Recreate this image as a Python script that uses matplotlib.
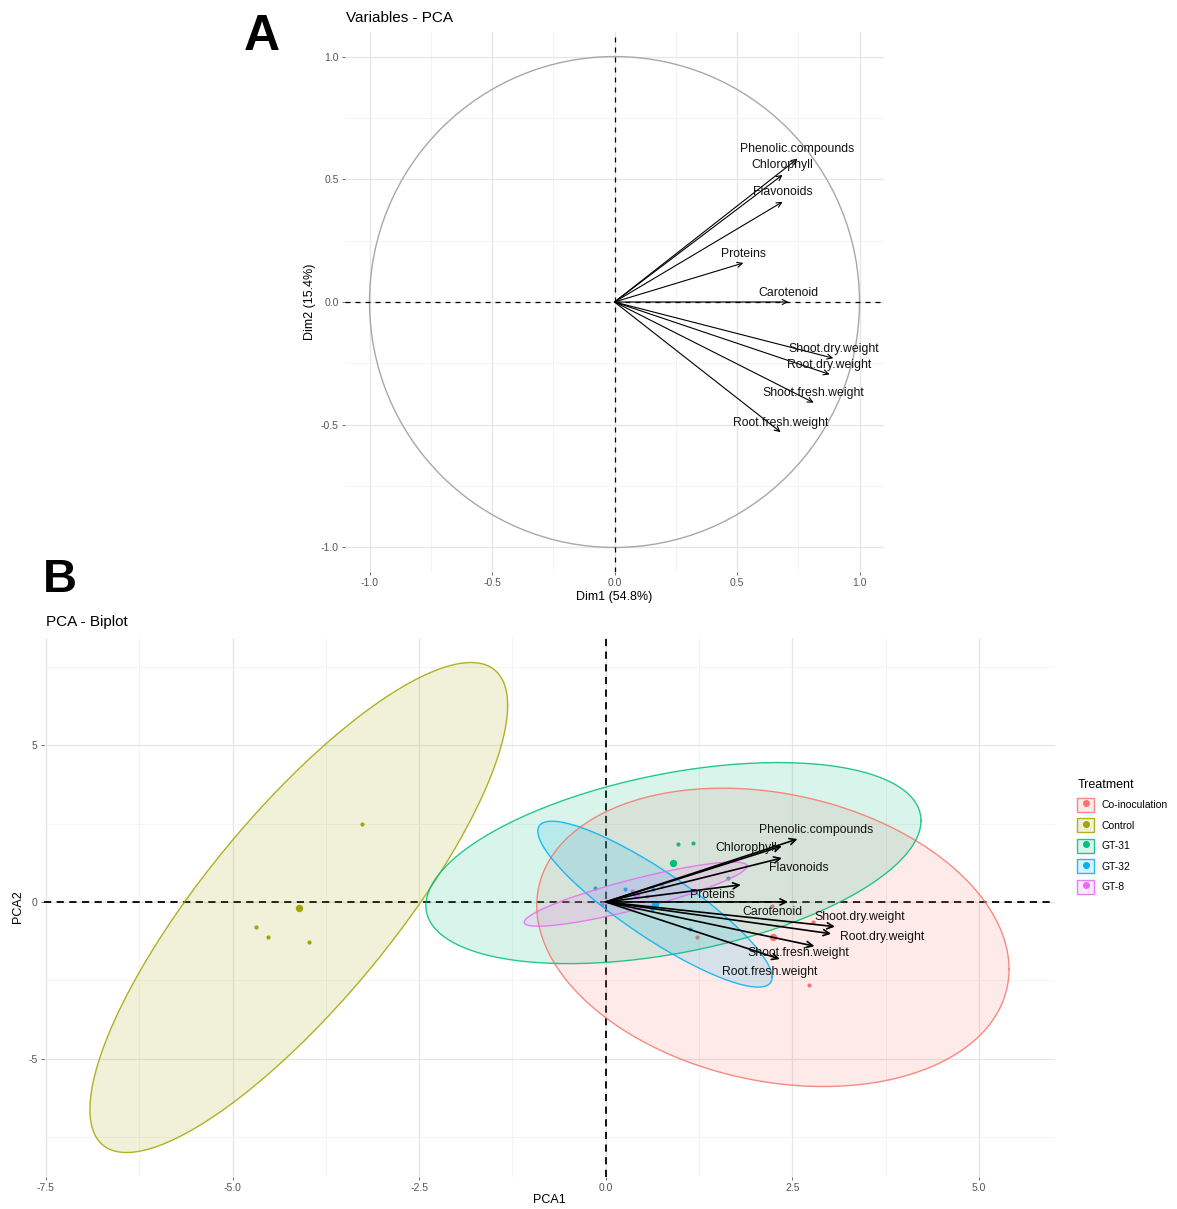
import numpy as np
import matplotlib
matplotlib.use("Agg")
import matplotlib.pyplot as plt
from matplotlib.patches import Circle, Patch
from matplotlib.lines import Line2D
from matplotlib.ticker import MultipleLocator

plt.rcParams['font.family'] = ['Liberation Sans', 'DejaVu Sans']
plt.rcParams['axes.unicode_minus'] = False

# variable coordinates on Dim1 / Dim2
var_names = ['Phenolic.compounds', 'Chlorophyll', 'Flavonoids', 'Proteins', 'Carotenoid',
             'Shoot.dry.weight', 'Root.dry.weight', 'Shoot.fresh.weight', 'Root.fresh.weight']
var_dim1 = [0.747, 0.686, 0.686, 0.526, 0.710, 0.893, 0.878, 0.813, 0.678]
var_dim2 = [0.584, 0.518, 0.408, 0.159, 0.000, -0.229, -0.295, -0.410, -0.530]
biplot_scale = 3.44

# individuals (PCA1, PCA2) per treatment
treatments = ['Co-inoculation', 'Control', 'GT-31', 'GT-32', 'GT-8']
coinoc_pc1 = [2.78, 2.73, 1.22, 2.23]
coinoc_pc2 = [-0.63, -2.65, -1.11, -0.13]
control_pc1 = [-3.27, -4.69, -4.52, -3.97]
control_pc2 = [2.49, -0.80, -1.12, -1.28]
gt31_pc1 = [0.97, 1.17, 1.64, -0.15]
gt31_pc2 = [1.84, 1.89, 0.78, 0.45]
gt32_pc1 = [0.255, 1.13, 0.63, 0.625]
gt32_pc2 = [0.41, -0.86, 0.40, -0.23]
gt8_pc1 = [-0.05, 0.35, 0.55, 0.75]
gt8_pc2 = [-0.05, 0.35, 0.20, 0.50]

colors = ['#F8766D', '#A3A500', '#00BF7D', '#00B0F6', '#E76BF3']

# label placement for the biplot (data units)
bi_label_xy = [(2.815, 2.30), (1.886, 1.716), (2.587, 1.076), (1.425, 0.234), (2.239, -0.309),
               (3.405, -0.469), (3.70, -1.108), (2.578, -1.64), (2.198, -2.226)]

W, H = 1177, 1209
fig = plt.figure(figsize=(W / 100, H / 100), dpi=100)


def px_axes(x0, y0, x1, y1):
    return fig.add_axes([x0 / W, 1 - y1 / H, (x1 - x0) / W, (y1 - y0) / H])


def style_axes(ax, major, minor):
    for s in ax.spines.values():
        s.set_visible(False)
    ax.xaxis.set_major_locator(MultipleLocator(major))
    ax.yaxis.set_major_locator(MultipleLocator(major))
    ax.xaxis.set_minor_locator(MultipleLocator(minor))
    ax.yaxis.set_minor_locator(MultipleLocator(minor))
    ax.grid(which='major', color='#E6E6E6', lw=0.9)
    ax.grid(which='minor', color='#F2F2F2', lw=0.6)
    ax.tick_params(which='major', length=2.5, width=0.6, color='#555555',
                   labelsize=7.5, labelcolor='#555555', pad=2)
    ax.tick_params(which='minor', length=0)
    ax.set_axisbelow(True)


def norm_ellipse(x, y, level=0.95, nseg=200):
    # same construction as ggplot2::stat_ellipse(type = "norm")
    x = np.asarray(x)
    y = np.asarray(y)
    dfd = len(x) - 1
    fq = dfd / 2 * ((1 - level) ** (-2 / dfd) - 1)  # F(2, dfd) quantile
    radius = np.sqrt(2 * fq)
    center = np.array([x.mean(), y.mean()])
    R = np.linalg.cholesky(np.cov(np.vstack([x, y]))).T
    t = np.linspace(0, 2 * np.pi, nseg)
    circ = np.column_stack([np.cos(t), np.sin(t)])
    return center + radius * circ @ R


# ---------------- Panel A ----------------
axA = px_axes(345, 32, 884, 572)
style_axes(axA, 0.5, 0.25)
axA.set_xlim(-1.1, 1.1)
axA.set_ylim(-1.1, 1.1)
axA.set_xticks([-1.0, -0.5, 0.0, 0.5, 1.0])
axA.set_yticks([-1.0, -0.5, 0.0, 0.5, 1.0])
axA.set_xticklabels(['-1.0', '-0.5', '0.0', '0.5', '1.0'])
axA.set_yticklabels(['-1.0', '-0.5', '0.0', '0.5', '1.0'])
axA.add_patch(Circle((0, 0), 1.0, fill=False, ec='#A8A8A8', lw=1.0, zorder=2))
axA.axhline(0, color='black', ls=(0, (4, 4)), lw=0.9, zorder=2)
axA.axvline(0, color='black', ls=(0, (4, 4)), lw=0.9, zorder=2)
for name, vx, vy in zip(var_names, var_dim1, var_dim2):
    axA.annotate('', xy=(vx, vy), xytext=(0, 0),
                 arrowprops=dict(arrowstyle='->', color='black', lw=0.8,
                                 shrinkA=0, shrinkB=0, mutation_scale=9), zorder=3)
    axA.annotate(name, xy=(vx, vy), xytext=(0, 2.5), textcoords='offset points',
                 ha='center', va='bottom', fontsize=8.8, color='#111111', zorder=4)

fig.text(346 / W, 1 - 18 / H, 'Variables - PCA', ha='left', va='center', fontsize=11)
fig.text(614 / W, 1 - 597 / H, 'Dim1 (54.8%)', ha='center', va='center', fontsize=9)
fig.text(310 / W, 1 - 302 / H, 'Dim2 (15.4%)', ha='center', va='center', fontsize=9,
         rotation=90)
fig.text(262 / W, 1 - 37 / H, 'A', ha='center', va='center', fontsize=36, fontweight='bold')

# ---------------- Panel B ----------------
axB = px_axes(44, 638, 1055, 1177)
style_axes(axB, 2.5, 1.25)
axB.yaxis.set_major_locator(MultipleLocator(5))
axB.yaxis.set_minor_locator(MultipleLocator(2.5))

groups_x = [coinoc_pc1, control_pc1, gt31_pc1, gt32_pc1, gt8_pc1]
groups_y = [coinoc_pc2, control_pc2, gt31_pc2, gt32_pc2, gt8_pc2]

axB.axhline(0, color='black', ls=(0, (4, 3)), lw=1.3, zorder=1.5)
axB.axvline(0, color='black', ls=(0, (4, 3)), lw=1.3, zorder=1.5)

allx, ally = [], []
for gx, gy, c in zip(groups_x, groups_y, colors):
    axB.scatter(gx, gy, s=9, color=c, lw=0, zorder=2)
for gx, gy, c in zip(groups_x, groups_y, colors):
    e = norm_ellipse(gx, gy)
    axB.fill(e[:, 0], e[:, 1], color=c, alpha=0.15, lw=0, zorder=3)
    axB.plot(e[:, 0], e[:, 1], color=c, lw=1.0, alpha=0.85, zorder=3.1)
    allx.extend(e[:, 0])
    ally.extend(e[:, 1])
for gx, gy, c in zip(groups_x, groups_y, colors):
    axB.scatter([np.mean(gx)], [np.mean(gy)], s=28, color=c, lw=0, zorder=4)

xr = max(allx) - min(allx)
yr = max(ally) - min(ally)
axB.set_xlim(min(allx) - 0.05 * xr, max(allx) + 0.05 * xr)
axB.set_ylim(min(ally) - 0.05 * yr, max(ally) + 0.05 * yr)

for name, vx, vy, (lx, ly) in zip(var_names, var_dim1, var_dim2, bi_label_xy):
    axB.annotate('', xy=(vx * biplot_scale, vy * biplot_scale), xytext=(0, 0),
                 arrowprops=dict(arrowstyle='->', color='black', lw=1.2,
                                 shrinkA=0, shrinkB=0, mutation_scale=11), zorder=5)
    axB.text(lx, ly, name, ha='center', va='center', fontsize=8.8, color='#111111', zorder=6)

fig.text(46 / W, 1 - 622 / H, 'PCA - Biplot', ha='left', va='center', fontsize=11)
fig.text(549 / W, 1 - 1200 / H, 'PCA1', ha='center', va='center', fontsize=9)
fig.text(18 / W, 1 - 907 / H, 'PCA2', ha='center', va='center', fontsize=9, rotation=90)
fig.text(60 / W, 1 - 580 / H, 'B', ha='center', va='center', fontsize=34, fontweight='bold')

handles = []
for c in colors:
    handles.append((Patch(facecolor=matplotlib.colors.to_rgba(c, 0.15),
                          edgecolor=matplotlib.colors.to_rgba(c, 0.85), lw=1.0),
                    Line2D([], [], marker='o', color=c, ls='', ms=4)))
fig.legend(handles, treatments, title='Treatment', loc='upper left',
           bbox_to_anchor=(1068 / W, 1 - 770 / H), frameon=False, fontsize=7.5,
           title_fontsize=9, handlelength=1.6, handleheight=1.7, labelspacing=0.62,
           handletextpad=0.7, alignment='left')

fig.savefig('out.png', dpi=100, facecolor='white')
